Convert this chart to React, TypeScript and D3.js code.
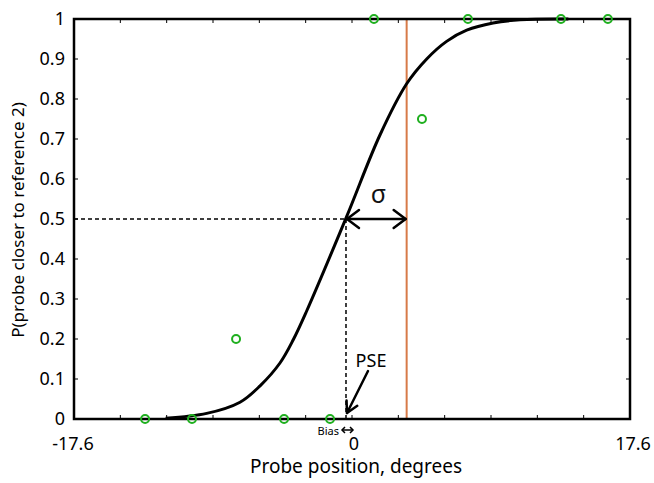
import React from "react";
import * as d3 from "d3";

const probeX = [-13.1, -10.13, -7.34, -4.3, -1.39, 1.39, 4.43, 7.34, 13.23, 16.2];
const probeP = [0, 0, 0.2, 0, 0, 1, 0.75, 1, 1, 1];

const curveX = [-11.8, -9.2, -7.09, -5.82, -4.56, -3.72, -2.87, -0.34, 1.77, 3.46, 4.73, 5.99, 7.26, 8.93, 10.64, 13.7];
const curveP = [0.002, 0.014, 0.042, 0.083, 0.14, 0.198, 0.27, 0.506, 0.71, 0.838, 0.9, 0.944, 0.972, 0.99, 0.998, 1.0];

const yTicks = [0, 0.1, 0.2, 0.3, 0.4, 0.5, 0.6, 0.7, 0.8, 0.9, 1];
const yTickLabels = ["0", "0.1", "0.2", "0.3", "0.4", "0.5", "0.6", "0.7", "0.8", "0.9", "1"];
const xTickLabels = ["-17.6", "0", "17.6"];
const xTickValues = [-17.6, 0, 17.6];
const xMinorCount = 12;

const PSE = -0.38;
const SIGMA_END = 3.46;

const FONT = "'Noto Sans', 'Open Sans', sans-serif";

export default function App() {
  const W = 654, H = 483;
  const left = 74, right = 630, top = 19, bottom = 419;
  const x = d3.scaleLinear().domain([-17.6, 17.6]).range([left, right]);
  const y = d3.scaleLinear().domain([0, 1]).range([bottom, top]);

  const line = d3
    .line<number>()
    .x((_, i) => x(curveX[i]))
    .y((d) => y(d))
    .curve(d3.curveCatmullRom.alpha(0.5));

  const minorX = d3.range(xMinorCount + 1).map((i) => -17.6 + (35.2 * i) / xMinorCount);

  const pseX = x(PSE);
  const halfY = y(0.5);
  const sigX = x(SIGMA_END);

  const arrowHead = (tx: number, ty: number, dx: number, dy: number, len: number, half: number) => {
    const l = Math.hypot(dx, dy);
    const ux = dx / l, uy = dy / l;
    const bx = tx - ux * len, by = ty - uy * len;
    const px = -uy, py = ux;
    return `M${bx + px * half},${by + py * half}L${tx},${ty}L${bx - px * half},${by - py * half}`;
  };

  return (
    <svg width={W} height={H} style={{ position: "absolute", left: 0, top: 0, background: "#fff" }} fontFamily={FONT}>
      <rect width={W} height={H} fill="#fff" />
      {minorX.map((v, i) => (
        <g key={"xt" + i} stroke="#000" strokeWidth={1}>
          <line x1={x(v)} x2={x(v)} y1={bottom} y2={bottom - 4} />
          <line x1={x(v)} x2={x(v)} y1={top} y2={top + 4} />
        </g>
      ))}
      {yTicks.map((v, i) => (
        <g key={"yt" + i} stroke="#000" strokeWidth={1}>
          <line x1={left} x2={left + 4} y1={y(v)} y2={y(v)} />
          <line x1={right} x2={right - 4} y1={y(v)} y2={y(v)} />
        </g>
      ))}
      <line x1={left} x2={pseX} y1={halfY} y2={halfY} stroke="#000" strokeWidth={1.5} strokeDasharray="4,3" />
      <line x1={pseX} x2={pseX} y1={halfY} y2={bottom} stroke="#000" strokeWidth={1.5} strokeDasharray="4,3" />
      <line x1={sigX} x2={sigX} y1={top} y2={bottom} stroke="#d77a48" strokeWidth={2} />
      <path d={line(curveP) || ""} fill="none" stroke="#000" strokeWidth={3} />
      <rect x={left} y={top} width={right - left} height={bottom - top} fill="none" stroke="#000" strokeWidth={2.5} />
      {probeX.map((v, i) => (
        <circle key={"p" + i} cx={x(v)} cy={y(probeP[i])} r={4} fill="none" stroke="#1faf1f" strokeWidth={2} />
      ))}
      <g stroke="#000" strokeWidth={2.5} fill="none" strokeLinecap="round" strokeLinejoin="round">
        <line x1={pseX + 1} x2={sigX - 1} y1={halfY} y2={halfY} />
        <path d={arrowHead(pseX + 1, halfY, -1, 0, 12, 9)} />
        <path d={arrowHead(sigX - 1, halfY, 1, 0, 12, 9)} />
      </g>
      <text x={(pseX + sigX) / 2 + 2} y={halfY - 16} textAnchor="middle" fontSize={25} fill="#111">σ</text>
      <text x={371} y={367} textAnchor="middle" fontSize={18} fill="#000">PSE</text>
      <g stroke="#000" strokeWidth={2.5} fill="none" strokeLinecap="round" strokeLinejoin="round">
        <line x1={368} y1={371} x2={pseX + 1} y2={bottom - 6} />
        <path d={arrowHead(pseX + 1, bottom - 6, pseX + 1 - 368, bottom - 6 - 371, 11, 6)} />
      </g>
      <text x={339} y={435} textAnchor="end" fontSize={11} fill="#000">Bias</text>
      <g stroke="#000" strokeWidth={1.5} fill="none">
        <line x1={pseX - 4} x2={x(0) + 1} y1={430} y2={430} />
        <path d={arrowHead(pseX - 4, 430, -1, 0, 3, 3)} />
        <path d={arrowHead(x(0) + 1, 430, 1, 0, 3, 3)} />
      </g>
      {yTicks.map((v, i) => (
        <text key={"yl" + i} x={65} y={y(v) + 6} textAnchor="end" fontSize={18} fill="#000">{yTickLabels[i]}</text>
      ))}
      {xTickValues.map((v, i) => (
        <text key={"xl" + i} x={x(v) + (i === 1 ? 2 : i === 2 ? 3 : -1)} y={450} textAnchor="middle" fontSize={18} fill="#000">{xTickLabels[i]}</text>
      ))}
      <text x={356} y={473} textAnchor="middle" fontSize={19} fill="#000">Probe position, degrees</text>
      <text transform={`translate(24,220) rotate(-90)`} textAnchor="middle" fontSize={17} fill="#000">P(probe closer to reference 2)</text>
    </svg>
  );
}
